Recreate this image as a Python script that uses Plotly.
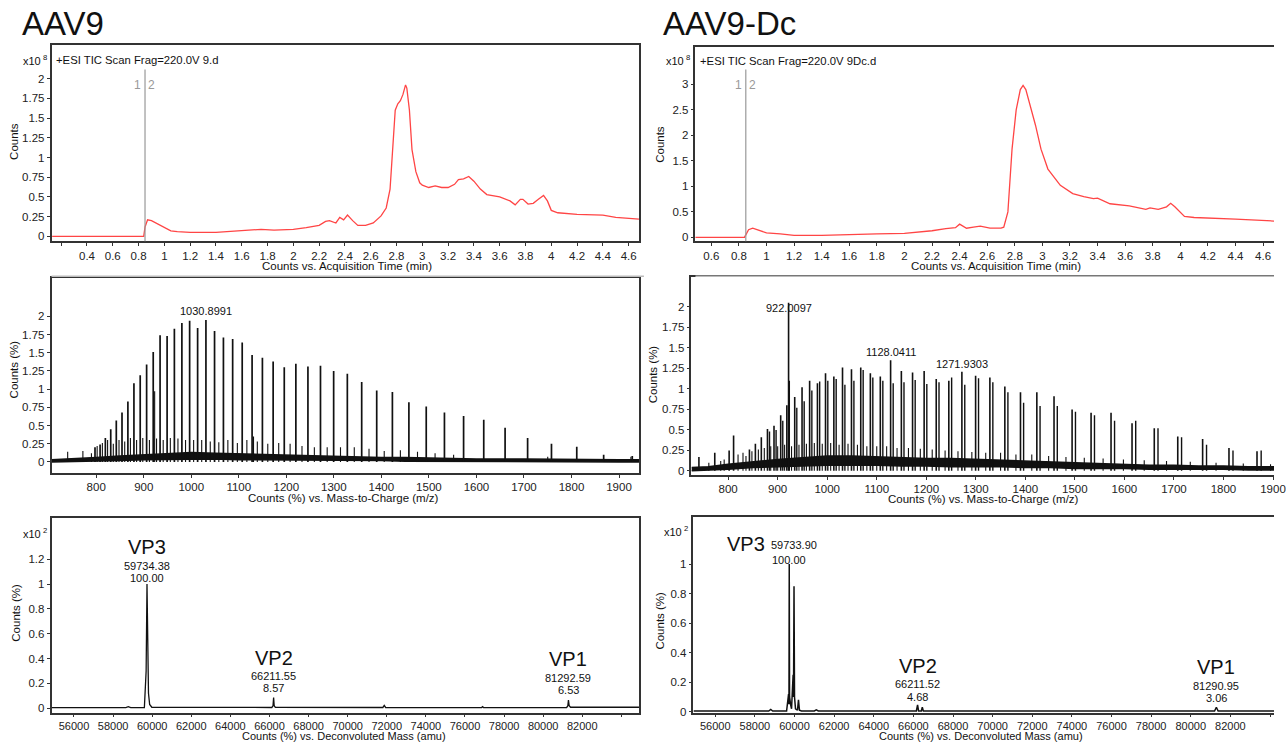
import plotly.graph_objects as go

W, H = 1286, 747

# ---------------- data ----------------
# Total ion chromatograms (counts x1e8)
tic_aav9_time = [0.13, 0.84, 0.85, 0.87, 0.9, 0.95, 1.0, 1.05, 1.1, 1.2, 1.4, 1.6, 1.75, 1.85, 2.0, 2.1,
                 2.2, 2.25, 2.28, 2.33, 2.36, 2.39, 2.42, 2.46, 2.5, 2.56, 2.62, 2.68, 2.72, 2.75, 2.77,
                 2.79, 2.81, 2.83, 2.85, 2.87, 2.88, 2.9, 2.92, 2.95, 2.98, 3.0, 3.05, 3.1, 3.15, 3.2,
                 3.25, 3.28, 3.32, 3.36, 3.4, 3.45, 3.5, 3.6, 3.68, 3.72, 3.76, 3.78, 3.82, 3.86, 3.9,
                 3.94, 3.97, 4.0, 4.05, 4.2, 4.4, 4.5, 4.68]
tic_aav9_counts = [0.0, 0.0, 0.12, 0.21, 0.2, 0.16, 0.11, 0.07, 0.06, 0.05, 0.05, 0.07, 0.09, 0.08, 0.09, 0.11,
                   0.14, 0.19, 0.2, 0.17, 0.24, 0.21, 0.27, 0.2, 0.14, 0.14, 0.17, 0.26, 0.36, 0.6, 1.1,
                   1.6, 1.68, 1.72, 1.8, 1.92, 1.88, 1.6, 1.1, 0.82, 0.68, 0.65, 0.62, 0.64, 0.62, 0.62,
                   0.66, 0.72, 0.73, 0.76, 0.7, 0.6, 0.53, 0.5, 0.45, 0.4, 0.47, 0.47, 0.41, 0.42, 0.47,
                   0.52, 0.45, 0.33, 0.3, 0.28, 0.27, 0.24, 0.22]

tic_dc_time = [0.48, 0.84, 0.85, 0.87, 0.9, 0.95, 1.0, 1.1, 1.2, 1.4, 1.6, 1.8, 2.0, 2.1, 2.2, 2.3, 2.37,
               2.4, 2.45, 2.5, 2.55, 2.62, 2.7, 2.72, 2.75, 2.78, 2.81, 2.84, 2.86, 2.88, 2.91, 2.95,
               2.99, 3.04, 3.13, 3.22, 3.3, 3.37, 3.4, 3.49, 3.63, 3.75, 3.78, 3.84, 3.9, 3.93, 3.96,
               4.0, 4.03, 4.1, 4.22, 4.4, 4.68]
tic_dc_counts = [0.0, 0.0, 0.05, 0.15, 0.18, 0.13, 0.09, 0.07, 0.04, 0.04, 0.06, 0.07, 0.08, 0.1, 0.13, 0.17,
                 0.19, 0.26, 0.18, 0.2, 0.22, 0.18, 0.18, 0.2, 0.5, 1.73, 2.5, 2.9, 2.98, 2.9, 2.6, 2.2,
                 1.73, 1.34, 1.02, 0.86, 0.8, 0.76, 0.77, 0.66, 0.62, 0.55, 0.58, 0.55, 0.6, 0.67, 0.6,
                 0.48, 0.41, 0.39, 0.38, 0.36, 0.32]

# Mass spectrum AAV9 (counts %)
ms_aav9_peak_mz = [797.5, 808.2, 819.3, 830.6, 842.3, 854.3, 866.7, 879.4, 892.6, 906.1, 920.0, 934.4,
                   949.2, 964.5, 980.3, 996.6, 1013.4, 1030.9, 1049.0, 1067.7, 1087.1, 1107.2, 1128.0,
                   1149.7, 1172.3, 1195.7, 1220.1, 1245.5, 1271.9, 1299.6, 1328.4, 1358.6, 1390.2, 1423.2,
                   1457.9, 1494.4, 1532.7, 1573.0, 1615.4, 1660.3, 1707.7, 1757.9, 1811.1, 1867.7, 1927.9]
ms_aav9_peak_h = [0.2, 0.24, 0.33, 0.45, 0.57, 0.68, 0.83, 1.08, 1.19, 1.34, 1.51, 1.74, 1.73, 1.83, 1.91,
                  1.94, 1.84, 1.95, 1.80, 1.71, 1.69, 1.64, 1.47, 1.43, 1.38, 1.30, 1.35, 1.31, 1.32, 1.25,
                  1.21, 1.10, 0.98, 0.96, 0.82, 0.76, 0.68, 0.63, 0.58, 0.47, 0.33, 0.25, 0.21, 0.10, 0.08]
ms_aav9_minor_mz = [740, 772, 790, 802, 813, 824, 836, 848, 860, 872, 885, 898, 912, 923, 927, 941, 956,
                    972, 988, 1005, 1022, 1040, 1058, 1077, 1097, 1117, 1131, 1139, 1161, 1184, 1208, 1233,
                    1259, 1286, 1314, 1343, 1374, 1406, 1440, 1476, 1513, 1552, 1750, 1925]
ms_aav9_minor_h = [0.14, 0.15, 0.12, 0.22, 0.26, 0.3, 0.25, 0.3, 0.28, 0.33, 0.3, 0.33, 0.3, 0.97, 0.32,
                   0.3, 0.33, 0.32, 0.3, 0.3, 0.3, 0.28, 0.27, 0.3, 0.26, 0.3, 0.35, 0.28, 0.25, 0.26, 0.25,
                   0.22, 0.2, 0.2, 0.2, 0.2, 0.18, 0.15, 0.16, 0.14, 0.12, 0.1, 0.07, 0.07]
ms_aav9_band_mz = [706, 750, 800, 850, 900, 950, 1000, 1050, 1100, 1150, 1200, 1250, 1300, 1350, 1400,
                   1450, 1500, 1600, 1700, 1800, 1900, 1942]
ms_aav9_band_lo = [0.0, 0.0, 0.01, 0.02, 0.03, 0.03, 0.04, 0.04, 0.03, 0.03, 0.03, 0.02, 0.02, 0.02, 0.02,
                   0.01, 0.01, 0.01, 0.0, 0.0, 0.0, 0.0]
ms_aav9_band_hi = [0.03, 0.04, 0.06, 0.08, 0.1, 0.12, 0.13, 0.12, 0.11, 0.1, 0.1, 0.09, 0.08, 0.07, 0.06,
                   0.06, 0.05, 0.04, 0.04, 0.03, 0.03, 0.03]

# Mass spectrum AAV9-Dc
ms_dc_peak_mz = [741, 773, 802, 811, 843, 855, 867, 879.4, 892.6, 906.1, 918.5, 922.0, 934.4, 949.2, 964.5,
                 980.3, 996.6, 1013.4, 1030.9, 1049.0, 1067.7, 1087.1, 1107.2, 1128.0, 1149.7, 1172.3,
                 1195.7, 1220.1, 1245.5, 1271.9, 1299.6, 1328.4, 1358.6, 1390.2, 1423.2, 1457.9, 1494.4,
                 1532.7, 1573.0, 1615.4, 1660.3, 1707.7, 1757.9, 1811.1, 1867.7]
ms_dc_peak_h = [0.17, 0.22, 0.25, 0.43, 0.26, 0.33, 0.41, 0.51, 0.55, 0.68, 0.8, 2.05, 0.9, 1.02, 1.1,
                1.07, 1.19, 1.15, 1.26, 1.24, 1.26, 1.19, 1.15, 1.35, 1.22, 1.2, 1.22, 1.12, 1.1, 1.21,
                1.16, 1.14, 1.03, 0.96, 0.96, 0.91, 0.75, 0.71, 0.71, 0.58, 0.52, 0.42, 0.39, 0.28, 0.24]
ms_dc_pair_mz = [883.5, 896.8, 910.3, 923.5, 938.6, 953.5, 969.0, 984.8, 1001.2, 1018.1, 1035.7, 1053.9,
                 1072.6, 1092.1, 1112.3, 1133.2, 1155.0, 1177.6, 1201.1, 1225.7, 1251.2, 1277.7, 1305.5,
                 1334.4, 1364.8, 1396.5, 1429.7, 1464.5, 1501.2, 1539.6, 1580.1, 1622.8, 1667.8, 1715.4,
                 1765.8, 1819.2, 1876.1]
ms_dc_pair_h = [0.48, 0.5, 0.61, 1.1, 0.77, 0.85, 0.98, 1.09, 1.1, 1.12, 1.05, 1.1, 1.23, 1.14, 1.1, 1.07,
                1.08, 1.11, 1.06, 1.08, 1.14, 1.05, 1.13, 1.08, 0.96, 0.83, 0.79, 0.79, 0.72, 0.68, 0.61,
                0.61, 0.52, 0.41, 0.32, 0.25, 0.25]
ms_dc_minor_mz = [761, 785, 792, 820, 830, 836, 848, 861, 873, 886, 900, 914, 928, 943, 958, 974, 990,
                  1007, 1024, 1042, 1061, 1080, 1100, 1120, 1141, 1164, 1188, 1212, 1238, 1264, 1292, 1320,
                  1350, 1381, 1413, 1447, 1482, 1519, 1557, 1598, 1640, 1685, 1733, 1785, 1840, 1895]
ms_dc_minor_h = [0.1, 0.12, 0.14, 0.2, 0.22, 0.18, 0.24, 0.26, 0.28, 0.3, 0.3, 0.32, 0.3, 0.32, 0.33, 0.34,
                 0.33, 0.34, 0.32, 0.33, 0.32, 0.3, 0.3, 0.3, 0.28, 0.28, 0.27, 0.26, 0.25, 0.24, 0.23,
                 0.22, 0.22, 0.2, 0.2, 0.18, 0.17, 0.16, 0.15, 0.14, 0.13, 0.12, 0.11, 0.1, 0.09, 0.08]
ms_dc_band_mz = [726, 760, 800, 850, 900, 950, 1000, 1050, 1100, 1150, 1200, 1250, 1300, 1350, 1400, 1450,
                 1500, 1550, 1600, 1650, 1700, 1750, 1800, 1850, 1908]
ms_dc_band_lo = [0.0, 0.01, 0.02, 0.04, 0.05, 0.06, 0.07, 0.07, 0.07, 0.06, 0.06, 0.05, 0.05, 0.05, 0.04,
                 0.04, 0.03, 0.03, 0.03, 0.02, 0.02, 0.02, 0.02, 0.01, 0.01]
ms_dc_band_hi = [0.04, 0.05, 0.08, 0.11, 0.14, 0.16, 0.18, 0.18, 0.17, 0.16, 0.15, 0.15, 0.14, 0.13, 0.12,
                 0.11, 0.1, 0.09, 0.08, 0.07, 0.07, 0.06, 0.06, 0.05, 0.05]

# Deconvoluted spectra (counts % x1e2)
dec_aav9_mass = [54850, 58650, 58780, 58900, 59600, 59690, 59734, 59770, 59810, 59870, 59980, 66120,
                 66180, 66211, 66240, 66300, 71800, 71870, 71940, 76850, 76900, 76950, 81200, 81260,
                 81292, 81330, 81400, 84900]
dec_aav9_counts = [0.005, 0.005, 0.012, 0.005, 0.006, 0.3, 1.0, 0.45, 0.12, 0.03, 0.008, 0.006, 0.02,
                   0.0857, 0.02, 0.007, 0.006, 0.022, 0.006, 0.005, 0.012, 0.005, 0.006, 0.02, 0.0653,
                   0.02, 0.008, 0.008]
dec_dc_mass = [54900, 58700, 58800, 58900, 59600, 59670, 59700, 59720, 59734, 59750, 59800, 59850, 59930,
               59950, 59975, 60000, 60050, 60150, 60200, 60250, 60350, 61000, 61100, 61200, 66150,
               66211, 66260, 66400, 66450, 66500, 81200, 81291, 81380, 84200]
dec_dc_counts = [0.005, 0.005, 0.015, 0.005, 0.005, 0.1, 0.12, 0.05, 1.0, 0.1, 0.05, 0.02, 0.25, 0.1,
                 0.85, 0.1, 0.02, 0.01, 0.08, 0.01, 0.005, 0.005, 0.012, 0.005, 0.005, 0.047, 0.005,
                 0.005, 0.03, 0.005, 0.005, 0.03, 0.005, 0.005]

# tick labels
tic_aav9_ticks = [0.2, 0.4, 0.6, 0.8, 1, 1.2, 1.4, 1.6, 1.8, 2, 2.2, 2.4, 2.6, 2.8, 3, 3.2, 3.4, 3.6, 3.8,
                  4, 4.2, 4.4, 4.6]
tic_aav9_ticktext = ["", "0.4", "0.6", "0.8", "1", "1.2", "1.4", "1.6", "1.8", "2", "2.2", "2.4", "2.6",
                     "2.8", "3", "3.2", "3.4", "3.6", "3.8", "4", "4.2", "4.4", "4.6"]
tic_dc_ticks = [0.6, 0.8, 1, 1.2, 1.4, 1.6, 1.8, 2, 2.2, 2.4, 2.6, 2.8, 3, 3.2, 3.4, 3.6, 3.8, 4, 4.2,
                4.4, 4.6]
tic_dc_ticktext = ["0.6", "0.8", "1", "1.2", "1.4", "1.6", "1.8", "2", "2.2", "2.4", "2.6", "2.8", "3",
                   "3.2", "3.4", "3.6", "3.8", "4", "4.2", "4.4", "4.6"]
tic_aav9_yticks = [0, 0.25, 0.5, 0.75, 1, 1.25, 1.5, 1.75, 2]
tic_aav9_yticktext = ["0", "0.25", "0.5", "0.75", "1", "1.25", "1.5", "1.75", "2"]
tic_dc_yticks = [0, 0.5, 1, 1.5, 2, 2.5, 3]
tic_dc_yticktext = ["0", "0.5", "1", "1.5", "2", "2.5", "3"]
ms_yticks = [0, 0.25, 0.5, 0.75, 1, 1.25, 1.5, 1.75, 2]
ms_yticktext = ["0", "0.25", "0.5", "0.75", "1", "1.25", "1.5", "1.75", "2"]
ms_xticks = [800, 900, 1000, 1100, 1200, 1300, 1400, 1500, 1600, 1700, 1800, 1900]
ms_xticktext = ["800", "900", "1000", "1100", "1200", "1300", "1400", "1500", "1600", "1700", "1800", "1900"]
mass_ticks = [56000, 58000, 60000, 62000, 64000, 66000, 68000, 70000, 72000, 74000, 76000, 78000, 80000,
              82000, 84000]
mass_ticktext = ["56000", "58000", "60000", "62000", "64000", "66000", "68000", "70000", "72000", "74000",
                 "76000", "78000", "80000", "82000", ""]
dec_aav9_yticks = [0, 0.2, 0.4, 0.6, 0.8, 1, 1.2]
dec_aav9_yticktext = ["0", "0.2", "0.4", "0.6", "0.8", "1", "1.2"]
dec_dc_yticks = [0, 0.2, 0.4, 0.6, 0.8, 1]
dec_dc_yticktext = ["0", "0.2", "0.4", "0.6", "0.8", "1"]

# ---------------- helpers ----------------
FONT = "Liberation Sans, Arial, sans-serif"


def fx(px):
    return px / W


def fy(py):
    return 1 - py / H


def sticks(xs, hs):
    X, Y = [], []
    for x, h in zip(xs, hs):
        X += [x, x, None]
        Y += [0, h, None]
    return X, Y


fig = go.Figure()

# panel frames in pixels: (left, top, right, bottom)
frames = {
    1: (52, 45, 645, 243),
    2: (702, 47, 1286, 243),
    3: (52, 280, 645, 476),
    4: (698, 279, 1286, 478),
    5: (52, 521, 645, 718),
    6: (700, 520, 1286, 718),
}
xr = {1: [0.125, 4.68], 2: [0.485, 4.679], 3: [706, 1942], 4: [726, 1902], 5: [54850, 84900],
      6: [54900, 84200]}
yr = {1: [-0.063, 2.43], 2: [-0.078, 3.74], 3: [-0.15, 2.526], 4: [-0.048, 2.364], 5: [-0.04, 1.536],
      6: [-0.01, 1.322]}
xt = {1: (tic_aav9_ticks, tic_aav9_ticktext), 2: (tic_dc_ticks, tic_dc_ticktext),
      3: (ms_xticks, ms_xticktext), 4: (ms_xticks, ms_xticktext),
      5: (mass_ticks, mass_ticktext), 6: (mass_ticks, mass_ticktext)}
yt = {1: (tic_aav9_yticks, tic_aav9_yticktext), 2: (tic_dc_yticks, tic_dc_yticktext),
      3: (ms_yticks, ms_yticktext), 4: (ms_yticks, ms_yticktext),
      5: (dec_aav9_yticks, dec_aav9_yticktext), 6: (dec_dc_yticks, dec_dc_yticktext)}

RED = "#ff4545"
INK = "#111111"

# TIC traces
fig.add_trace(go.Scatter(x=tic_aav9_time, y=tic_aav9_counts, mode="lines", line=dict(color=RED, width=1.3),
                         xaxis="x", yaxis="y"))
fig.add_trace(go.Scatter(x=tic_dc_time, y=tic_dc_counts, mode="lines", line=dict(color=RED, width=1.3),
                         xaxis="x2", yaxis="y2"))

# MS AAV9
fig.add_trace(go.Scatter(x=ms_aav9_band_mz + ms_aav9_band_mz[::-1], y=ms_aav9_band_hi + ms_aav9_band_lo[::-1],
                         fill="toself", fillcolor=INK, line=dict(color=INK, width=1.5), mode="lines",
                         xaxis="x3", yaxis="y3"))
for xs, hs, wd in [(ms_aav9_minor_mz, ms_aav9_minor_h, 1.1), (ms_aav9_peak_mz, ms_aav9_peak_h, 1.7)]:
    X, Y = sticks(xs, hs)
    fig.add_trace(go.Scatter(x=X, y=Y, mode="lines", line=dict(color=INK, width=wd), xaxis="x3", yaxis="y3"))

# MS Dc
fig.add_trace(go.Scatter(x=ms_dc_band_mz + ms_dc_band_mz[::-1], y=ms_dc_band_hi + ms_dc_band_lo[::-1],
                         fill="toself", fillcolor=INK, line=dict(color=INK, width=1.5), mode="lines",
                         xaxis="x4", yaxis="y4"))
for xs, hs, wd in [(ms_dc_minor_mz, ms_dc_minor_h, 1.1), (ms_dc_pair_mz, ms_dc_pair_h, 1.4),
                   (ms_dc_peak_mz, ms_dc_peak_h, 1.6)]:
    X, Y = sticks(xs, hs)
    fig.add_trace(go.Scatter(x=X, y=Y, mode="lines", line=dict(color=INK, width=wd), xaxis="x4", yaxis="y4"))

# Deconvoluted
fig.add_trace(go.Scatter(x=dec_aav9_mass, y=dec_aav9_counts, mode="lines", line=dict(color=INK, width=1.3),
                         xaxis="x5", yaxis="y5"))
fig.add_trace(go.Scatter(x=dec_dc_mass, y=dec_dc_counts, mode="lines", line=dict(color=INK, width=1.5),
                         xaxis="x6", yaxis="y6"))

layout = dict(width=W, height=H, margin=dict(l=0, r=0, t=0, b=0), autosize=False,
              paper_bgcolor="white", plot_bgcolor="white", showlegend=False)

for i in range(1, 7):
    l, t, r, b = frames[i]
    sx = "" if i == 1 else str(i)
    right_cut = i in (2, 4, 6)
    xfont = dict(family=FONT, size=(11 if i in (5, 6) else 11.5), color="#222")
    yfont = dict(family=FONT, size=11.5, color="#222")
    xa = dict(domain=[fx(l), fx(r)], range=xr[i], anchor="y" + sx, showgrid=False, zeroline=False,
              showline=True, linecolor="#333", linewidth=1.5, mirror=True, ticks="outside",
              ticklen=(2 if i in (5, 6) else 3),
              tickcolor="#333", tickfont=xfont, tickmode="array", tickvals=xt[i][0], ticktext=xt[i][1])
    if right_cut:
        xa["ticklabeloverflow"] = "allow"
    ya = dict(domain=[fy(b), fy(t)], range=yr[i], anchor="x" + sx, showgrid=False, zeroline=False,
              showline=True, linecolor="#333", linewidth=1.5, mirror=(not right_cut), ticks="outside",
              ticklen=3, tickcolor="#333", tickfont=yfont, tickmode="array", tickvals=yt[i][0],
              ticktext=yt[i][1])
    layout["xaxis" + sx] = xa
    layout["yaxis" + sx] = ya

fig.update_layout(**layout)

anns = []


def txt(x, y, s, size=11.5, color="#111", xanchor="center", yanchor="middle", angle=0,
        xref="paper", yref="paper"):
    anns.append(dict(x=x, y=y, text=s, showarrow=False, xref=xref, yref=yref, xanchor=xanchor,
                     yanchor=yanchor, textangle=angle, font=dict(family=FONT, size=size, color=color)))


# Titles
txt(fx(20), fy(24), "AAV9", size=33, xanchor="left")
txt(fx(667), fy(24), "AAV9-Dc", size=33, xanchor="left")

# scale labels
for px, py, s in [(49, 60, "x10<sup> 8</sup>"), (699, 60, "x10<sup> 8</sup>"),
                  (49, 537, "x10<sup> 2</sup>"), (697, 535, "x10<sup> 2</sup>")]:
    txt(fx(px), fy(py), s, size=11, xanchor="right")

txt(fx(55), fy(60), "+ESI TIC Scan Frag=220.0V 9.d", size=11.3, xanchor="left")
txt(fx(705), fy(61), "+ESI TIC Scan Frag=220.0V 9Dc.d", size=11.3, xanchor="left")

# axis titles
txt(fx(350), fy(268), "Counts vs. Acquisition Time (min)")
txt(fx(1005), fy(268), "Counts vs. Acquisition Time (min)")
txt(fx(347), fy(501), "Counts (%) vs. Mass-to-Charge (m/z)")
txt(fx(993), fy(502), "Counts (%) vs. Mass-to-Charge (m/z)")
txt(fx(347), fy(741), "Counts (%) vs. Deconvoluted Mass (amu)", size=11)
txt(fx(990), fy(741), "Counts (%) vs. Deconvoluted Mass (amu)", size=11)
txt(fx(14), fy(142), "Counts", angle=-90)
txt(fx(666), fy(145), "Counts", angle=-90)
txt(fx(14), fy(372), "Counts (%)", angle=-90)
txt(fx(660), fy(377), "Counts (%)", angle=-90)
txt(fx(16), fy(617), "Counts (%)", angle=-90)
txt(fx(666), fy(625), "Counts (%)", angle=-90)

# marker lines "1 | 2"
shapes = []
for xa_, ya_, top_px, frame in [("x", "y", 70, frames[1]), ("x2", "y2", 70, frames[2])]:
    l, t, r, b = frame
    shapes.append(dict(type="line", xref=xa_, yref=ya_ + " domain", x0=0.85, x1=0.85,
                       y0=0, y1=(b - top_px) / (b - t), line=dict(color="#999", width=1.2)))
    anns.append(dict(x=0.85, y=fy(77), xref=xa_, yref="paper", text="1", showarrow=False, xanchor="right",
                     xshift=-2, font=dict(family=FONT, size=12, color="#999")))
    anns.append(dict(x=0.85, y=fy(77), xref=xa_, yref="paper", text="2", showarrow=False, xanchor="left",
                     xshift=1, font=dict(family=FONT, size=12, color="#999")))

# separators under top row
shapes.append(dict(type="line", xref="paper", yref="paper", x0=fx(52), x1=fx(650), y0=fy(278), y1=fy(278),
                   line=dict(color="#bbb", width=1.5)))
shapes.append(dict(type="line", xref="paper", yref="paper", x0=fx(702), x1=1, y0=fy(278), y1=fy(278),
                   line=dict(color="#bbb", width=1.5)))

# peak labels MS
txt(1030.9, fy(313), "1030.8991", size=11, xref="x3")
txt(922.0, fy(310), "922.0097", size=11, xref="x4")
txt(1128.0, fy(354), "1128.0411", size=11, xref="x4")
txt(1271.9, fy(366), "1271.9303", size=11, xref="x4")

# deconvoluted labels
txt(59734, fy(551), "VP3", size=20, xref="x5")
txt(59734, fy(570), "59734.38", size=11, xref="x5")
txt(59734, fy(582), "100.00", size=11, xref="x5")
txt(66211, fy(662), "VP2", size=20, xref="x5")
txt(66211, fy(681), "66211.55", size=11, xref="x5")
txt(66211, fy(693), "8.57", size=11, xref="x5")
txt(81292, fy(663), "VP1", size=20, xref="x5")
txt(81292, fy(683), "81292.59", size=11, xref="x5")
txt(81292, fy(695), "6.53", size=11, xref="x5")

txt(fx(753), fy(548), "VP3", size=20)
txt(fx(801), fy(549), "59733.90", size=11)
txt(59734, fy(564), "100.00", size=11, xref="x6")
txt(66211, fy(670), "VP2", size=20, xref="x6")
txt(66211, fy(689), "66211.52", size=11, xref="x6")
txt(66211, fy(702), "4.68", size=11, xref="x6")
txt(81291, fy(671), "VP1", size=20, xref="x6")
txt(81291, fy(691), "81290.95", size=11, xref="x6")
txt(81291, fy(703), "3.06", size=11, xref="x6")

fig.update_layout(annotations=anns, shapes=shapes)

fig.write_html("out.html", config={"displayModeBar": False},
               post_script="document.body.style.margin='0';document.body.style.overflow='hidden';")
